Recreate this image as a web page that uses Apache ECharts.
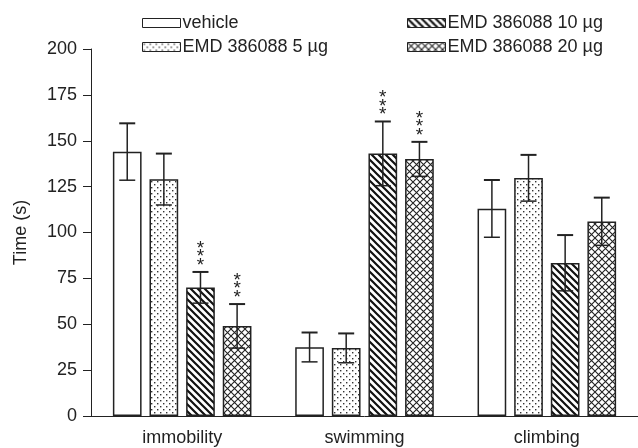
<!DOCTYPE html>
<html>
<head>
<meta charset="utf-8">
<script src="https://cdn.jsdelivr.net/npm/echarts@6/dist/echarts.min.js"></script>
<style>
  html, body { margin: 0; padding: 0; background: #fff; }
  #chart { width: 638px; height: 448px; }
</style>
</head>
<body>
<div id="chart"></div>
<script>
// data
const categories = ['immobility', 'swimming', 'climbing']
const seriesNames = ['vehicle', 'EMD 386088 5 µg', 'EMD 386088 10 µg', 'EMD 386088 20 µg']
const vehicleMean = [144, 37.5, 113]
const vehicleErr = [15.5, 8, 15.6]
const emd5Mean = [129, 37, 129.7]
const emd5Err = [14, 8, 12.6]
const emd10Mean = [70, 143, 83.4]
const emd10Err = [8.5, 17.5, 15.2]
const emd20Mean = [49, 140, 106]
const emd20Err = [12, 9.4, 13]
const vehicleSig = ['', '', '']
const emd5Sig = ['', '', '']
const emd10Sig = ['***', '***', '']
const emd20Sig = ['***', '***', '']
const yMin = 0
const yMax = 200
const yStep = 25

const means = [vehicleMean, emd5Mean, emd10Mean, emd20Mean]
const errs = [vehicleErr, emd5Err, emd10Err, emd20Err]
const sigs = [vehicleSig, emd5Sig, emd10Sig, emd20Sig]

const INK = '#222'
const FONT = '"Liberation Sans", Arial, sans-serif'
const CAT_GAP = 0.24
const BAR_GAP = 0.276

// fill patterns
const makeTile = (size, draw) => {
  const c = document.createElement('canvas')
  c.width = size
  c.height = size
  const ctx = c.getContext('2d')
  ctx.fillStyle = '#fff'
  ctx.fillRect(0, 0, size, size)
  draw(ctx, size)
  return { image: c, repeat: 'repeat' }
}

const plainFill = '#fff'
const dotFill = makeTile(6, (ctx) => {
  ctx.fillStyle = '#333'
  ctx.fillRect(1, 1, 1.4, 1.4)
  ctx.fillRect(4, 4, 1.4, 1.4)
})
const hatchFill = makeTile(7, (ctx, s) => {
  ctx.strokeStyle = '#111'
  ctx.lineWidth = 2.2
  ctx.beginPath()
  ctx.moveTo(-1, -1); ctx.lineTo(s + 1, s + 1)
  ctx.moveTo(-1, s - 1); ctx.lineTo(1, s + 1)
  ctx.moveTo(s - 1, -1); ctx.lineTo(s + 1, 1)
  ctx.stroke()
})
const crossFill = makeTile(7, (ctx, s) => {
  ctx.strokeStyle = '#222'
  ctx.lineWidth = 1.1
  ctx.beginPath()
  ctx.moveTo(0, 0); ctx.lineTo(s, s)
  ctx.moveTo(0, s); ctx.lineTo(s, 0)
  ctx.stroke()
})
const fills = [plainFill, dotFill, hatchFill, crossFill]

const barSeries = seriesNames.map((name, k) => ({
  name,
  type: 'bar',
  data: means[k],
  barGap: (BAR_GAP * 100) + '%',
  barCategoryGap: (CAT_GAP * 100) + '%',
  itemStyle: { color: fills[k], borderColor: INK, borderWidth: 1.5 },
  emphasis: { disabled: true },
}))

const errSeries = seriesNames.map((name, k) => ({
  name: 'err-' + k,
  type: 'custom',
  z: 5,
  silent: true,
  clip: false,
  data: categories.map((c, i) => [i, means[k][i], errs[k][i]]),
  encode: { x: 0, y: 1 },
  renderItem: (params, api) => {
    const band = api.size([1, 0])[0]
    const w = band * (1 - CAT_GAP) / (4 + 3 * BAR_GAP)
    const off = (k - 1.5) * w * (1 + BAR_GAP)
    const i = api.value(0)
    const m = api.value(1)
    const e = api.value(2)
    const top = api.coord([i, m + e])
    const bot = api.coord([i, m - e])
    const x = top[0] + off
    const half = 8
    const children = [
      { type: 'line', shape: { x1: x, y1: top[1], x2: x, y2: bot[1] }, style: { stroke: INK, lineWidth: 1.5 } },
      { type: 'line', shape: { x1: x - half, y1: top[1], x2: x + half, y2: top[1] }, style: { stroke: INK, lineWidth: 2 } },
      { type: 'line', shape: { x1: x - half, y1: bot[1], x2: x + half, y2: bot[1] }, style: { stroke: INK, lineWidth: 1.5 } },
    ]
    const sig = sigs[k][i]
    if (sig) {
      children.push({
        type: 'text',
        style: {
          text: sig.split('').join('\n'),
          x: x,
          y: top[1] - 2,
          align: 'center',
          verticalAlign: 'bottom',
          fontSize: 19,
          lineHeight: 8.6,
          fontFamily: FONT,
          fill: INK,
        },
      })
    }
    return { type: 'group', children }
  },
}))

const legendBase = {
  orient: 'vertical',
  icon: 'rect',
  itemWidth: 38,
  itemHeight: 9,
  itemGap: 6,
  top: 9,
  selectedMode: false,
  textStyle: { fontSize: 18, color: INK, fontFamily: FONT, padding: [0, 0, 0, -3] },
  itemStyle: { borderColor: INK, borderWidth: 1 },
}

const option = {
  animation: false,
  backgroundColor: '#fff',
  textStyle: { fontFamily: FONT },
  legend: [
    Object.assign({}, legendBase, { left: 137, data: [seriesNames[0], seriesNames[1]] }),
    Object.assign({}, legendBase, { left: 402, data: [seriesNames[2], seriesNames[3]] }),
  ],
  grid: { left: 91, top: 49, width: 552, height: 367 },
  xAxis: {
    type: 'category',
    data: categories,
    axisLine: { lineStyle: { color: INK, width: 1 } },
    axisTick: { alignWithLabel: true, length: 8, lineStyle: { color: INK } },
    axisLabel: { color: INK, fontSize: 18, margin: 13, fontFamily: FONT },
  },
  yAxis: {
    type: 'value',
    min: yMin,
    max: yMax,
    interval: yStep,
    name: 'Time (s)',
    nameLocation: 'middle',
    nameGap: 61,
    nameTextStyle: { color: INK, fontSize: 18, fontFamily: FONT },
    axisLine: { show: true, lineStyle: { color: INK, width: 1 } },
    axisTick: { show: true, length: 8, lineStyle: { color: INK } },
    axisLabel: { color: INK, fontSize: 18, margin: 14, fontFamily: FONT },
    splitLine: { show: false },
  },
  series: barSeries.concat(errSeries),
}

const chart = echarts.init(document.getElementById('chart'), null, { renderer: 'canvas' })
chart.setOption(option)
</script>
</body>
</html>
